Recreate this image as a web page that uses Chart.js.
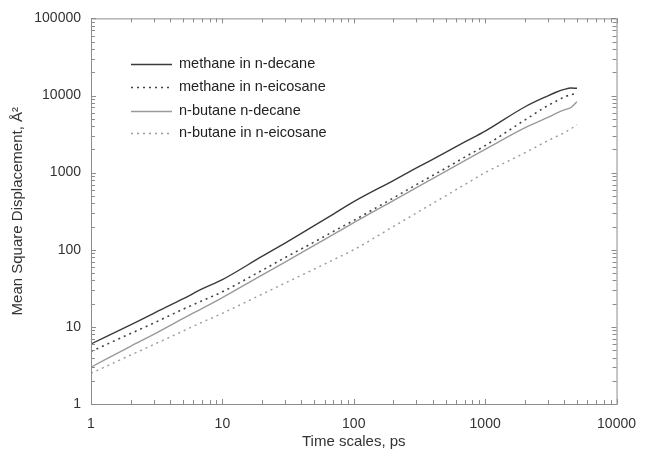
<!DOCTYPE html>
<html>
<head>
<meta charset="utf-8">
<script src="https://cdn.jsdelivr.net/npm/chart.js@4/dist/chart.umd.min.js"></script>
<style>
html,body{margin:0;padding:0;background:#fff;}
#wrap{width:648px;height:458px;}
</style>
</head>
<body>
<div id="wrap"><canvas id="c" width="648" height="458"></canvas></div>
<script>
// Time points (ps)
const timePs = [1, 2, 3, 5, 7, 10, 20, 30, 50, 70, 100, 200, 300, 500, 700, 1000, 2000, 3000, 3500, 4000, 4500, 5000];
// Mean square displacement (Å²)
const methaneDecane   = [6.0, 10.6, 15.0, 23.0, 31, 41, 82, 122, 205, 290, 420, 790, 1150, 1830, 2500, 3450, 7100, 9900, 11100, 12000, 12500, 12400];
const methaneEicosane = [4.8, 8.2, 11.2, 16.9, 21.8, 28.5, 54, 79, 126, 173, 240, 470, 700, 1140, 1590, 2240, 4800, 7400, 8500, 9600, 10200, 10700];
const butaneDecane    = [3.0, 5.6, 8.0, 12.8, 17.3, 24, 47, 69, 114, 158, 225, 435, 640, 1040, 1430, 2000, 3800, 5200, 5900, 6500, 7000, 8300];
const butaneEicosane  = [2.5, 4.3, 5.9, 8.8, 11.5, 15, 26.5, 37, 56, 74, 100, 200, 300, 500, 700, 1000, 1800, 2600, 2950, 3300, 3700, 4200];
const seriesLabels = ['methane in n-decane', 'methane in n-eicosane', 'n-butane n-decane', 'n-butane in n-eicosane'];
const xTickLabels = ['1', '10', '100', '1000', '10000'];
const yTickLabels = ['1', '10', '100', '1000', '10000', '100000'];

const FONT = '"Liberation Sans", Arial, sans-serif';
const pts = arr => timePs.map((t, i) => ({x: t, y: arr[i]}));

const styles = [
  {color: '#3a3a3a', dash: [], width: 1.4},
  {color: '#444444', dash: [2, 4], width: 1.6},
  {color: '#9a9a9a', dash: [], width: 1.4},
  {color: '#9a9a9a', dash: [2, 4], width: 1.4}
];
const allSeries = [methaneDecane, methaneEicosane, butaneDecane, butaneEicosane];

const datasets = allSeries.map((s, i) => ({
  label: seriesLabels[i],
  data: pts(s),
  borderColor: styles[i].color,
  borderDash: styles[i].dash,
  borderWidth: styles[i].width,
  pointRadius: 0,
  fill: false,
  cubicInterpolationMode: 'monotone'
}));

const isDecade = v => Math.abs(Math.log10(v) - Math.round(Math.log10(v))) < 1e-9;

const framePlugin = {
  id: 'frame',
  afterDatasetsDraw(chart) {
    const {ctx, chartArea: a, scales} = chart;
    ctx.save();
    ctx.strokeStyle = '#8c8c8c';
    ctx.lineWidth = 1;
    ctx.setLineDash([]);
    ctx.strokeRect(a.left + 0.5, a.top + 0.5, a.right - a.left, a.bottom - a.top);
    // inside ticks
    const ticksFor = (min, max) => {
      const out = [];
      for (let e = Math.round(Math.log10(min)); e < Math.round(Math.log10(max)); e++) {
        for (let m = 1; m <= 9; m++) out.push({v: m * Math.pow(10, e), major: m === 1});
      }
      out.push({v: max, major: true});
      return out;
    };
    ctx.beginPath();
    ticksFor(scales.x.min, scales.x.max).forEach(t => {
      const px = Math.round(scales.x.getPixelForValue(t.v)) + 0.5;
      const len = t.major ? 5 : 4;
      ctx.moveTo(px, a.bottom); ctx.lineTo(px, a.bottom - len);
      ctx.moveTo(px, a.top); ctx.lineTo(px, a.top + len);
    });
    ticksFor(scales.y.min, scales.y.max).forEach(t => {
      const py = Math.round(scales.y.getPixelForValue(t.v)) + 0.5;
      const len = t.major ? 5 : 4;
      ctx.moveTo(a.left, py); ctx.lineTo(a.left + len, py);
      ctx.moveTo(a.right, py); ctx.lineTo(a.right - len, py);
    });
    ctx.stroke();

    // legend inside plot
    const rows = [64, 87, 111, 133];
    ctx.font = '14.5px ' + FONT;
    ctx.textBaseline = 'middle';
    ctx.fillStyle = '#222';
    chart.data.datasets.forEach((ds, i) => {
      const y = rows[i] + 0.5;
      ctx.beginPath();
      ctx.strokeStyle = ds.borderColor;
      ctx.lineWidth = ds.borderWidth;
      ctx.setLineDash(ds.borderDash);
      ctx.moveTo(131, y); ctx.lineTo(172, y);
      ctx.stroke();
      ctx.setLineDash([]);
      ctx.fillText(ds.label, 179, rows[i]);
    });
    ctx.restore();
  }
};

new Chart(document.getElementById('c'), {
  type: 'line',
  data: {datasets},
  options: {
    responsive: false,
    animation: false,
    layout: {padding: {top: 18, right: 20, left: 0, bottom: 0}},
    plugins: {legend: {display: false}, tooltip: {enabled: false}},
    scales: {
      x: {
        type: 'logarithmic',
        min: 1, max: 10000,
        grid: {display: false, drawTicks: false},
        border: {display: false},
        afterBuildTicks: s => { s.ticks = xTickLabels.map(v => ({value: Number(v)})); },
        ticks: {
          autoSkip: false, maxRotation: 0, padding: 12,
          color: '#333', font: {family: FONT, size: 14},
          callback: v => isDecade(v) ? xTickLabels[Math.round(Math.log10(v))] : ''
        },
        title: {display: true, text: 'Time scales, ps', color: '#333', font: {family: FONT, size: 15}, padding: {top: 4, bottom: 7}},
        afterFit: s => { s.height = 54; }
      },
      y: {
        type: 'logarithmic',
        min: 1, max: 100000,
        grid: {display: false, drawTicks: false},
        border: {display: false},
        afterBuildTicks: s => { s.ticks = yTickLabels.map(v => ({value: Number(v)})); },
        ticks: {
          autoSkip: false, padding: 10,
          color: '#333', font: {family: FONT, size: 14},
          callback: v => isDecade(v) ? yTickLabels[Math.round(Math.log10(v))] : ''
        },
        title: {display: true, text: 'Mean Square Displacement, Å²', color: '#333', font: {family: FONT, size: 15}, padding: {top: 9, bottom: 4}},
        afterFit: s => { s.width = 91; }
      }
    }
  },
  plugins: [framePlugin]
});
</script>
</body>
</html>
